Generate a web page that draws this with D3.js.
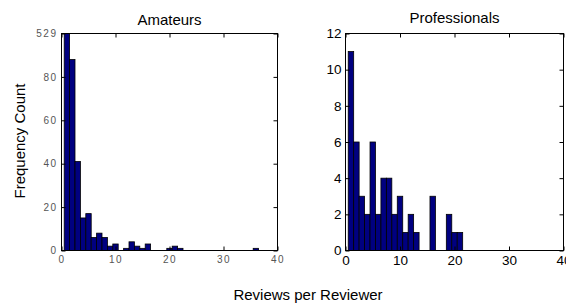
<!DOCTYPE html>
<meta charset="utf-8">
<style>
body { margin: 0; background: #fff; }
text { font-family: "Liberation Sans", Arial, sans-serif; }
.frame { fill: none; stroke: #000; stroke-width: 1px; }
.bar { fill: #000080; stroke: #000; stroke-width: 0.8px; }
.axis path { display: none; }
.axis line { stroke: #000; }
.amateur .axis text { fill: #555; font-size: 10px; letter-spacing: 1.5px; }
.pro .axis text { fill: #000; font-size: 13.5px; }
.title { font-size: 15px; text-anchor: middle; }
</style>

<svg id="chart" width="566" height="304"></svg>

<script src="https://cdn.jsdelivr.net/npm/d3@7"></script>
<script>
// counts per bin, bin 1 first
var amateurCounts = [529, 88, 41, 15, 17, 6, 8, 6, 2, 3, 0, 1, 4, 2, 1, 3, 0, 0, 0, 1, 2, 1,
                     0, 0, 0, 0, 0, 0, 0, 0, 0, 0, 0, 0, 0, 1];
var proCounts = [11, 6, 3, 2, 6, 2, 4, 4, 2, 3, 1, 2, 1, 0, 0, 3, 0, 0, 2, 1, 1];

// amateur y axis is squashed: top tick stands for the largest bin
var amateurYTicks = [0, 20, 40, 60, 80, 100];
var amateurYLabels = ["0", "20", "40", "60", "80", "529"];
var proYTicks = [0, 2, 4, 6, 8, 10, 12];
var xTicks = [0, 10, 20, 30, 40];

var svg = d3.select("#chart");

function panel(opts) {
  var g = svg.append("g")
      .attr("class", opts.cls)
      .attr("transform", "translate(" + opts.left + "," + opts.top + ")");

  var x = d3.scaleLinear().domain([0, 40]).range([0, opts.width]),
      y = d3.scaleLinear().domain(opts.yDomain).range([opts.height, 0]).clamp(true);

  var bins = opts.counts.map(function(c, i) { return {bin: i + 1, count: c}; })
      .filter(function(d) { return d.count > 0; });

  g.selectAll(".bar")
    .data(bins)
    .enter().append("rect")
      .attr("class", "bar")
      .attr("x", function(d) { return x(d.bin - 0.5); })
      .attr("width", function(d) { return x(d.bin + 0.5) - x(d.bin - 0.5); })
      .attr("y", function(d) { return y(d.count); })
      .attr("height", function(d) { return opts.height - y(d.count); });

  // matlab style: ticks point inwards on all four sides
  g.append("g")
      .attr("class", "axis")
      .attr("transform", "translate(0," + opts.height + ")")
      .call(d3.axisBottom(x).tickValues(xTicks).tickSizeInner(-4).tickSizeOuter(0).tickPadding(5));
  g.append("g")
      .attr("class", "axis")
      .call(d3.axisTop(x).tickValues(xTicks).tickSizeInner(-4).tickSizeOuter(0).tickFormat(""));
  g.append("g")
      .attr("class", "axis")
      .call(d3.axisLeft(y).tickValues(opts.yTicks).tickSizeInner(-4).tickSizeOuter(0)
        .tickPadding(4).tickFormat(opts.yFormat));
  g.append("g")
      .attr("class", "axis")
      .attr("transform", "translate(" + opts.width + ",0)")
      .call(d3.axisRight(y).tickValues(opts.yTicks).tickSizeInner(-4).tickSizeOuter(0).tickFormat(""));

  g.append("rect")
      .attr("class", "frame")
      .attr("width", opts.width)
      .attr("height", opts.height);

  g.append("text")
      .attr("class", "title")
      .attr("x", opts.width / 2)
      .attr("y", opts.titleY)
      .text(opts.title);
}

panel({
  cls: "amateur", left: 61.5, top: 33.5, width: 216, height: 217,
  counts: amateurCounts, yDomain: [0, 100], yTicks: amateurYTicks,
  yFormat: function(d, i) { return amateurYLabels[i]; },
  title: "Amateurs", titleY: -8.5
});

panel({
  cls: "pro", left: 345.5, top: 33.5, width: 218, height: 217,
  counts: proCounts, yDomain: [0, 12], yTicks: proYTicks,
  yFormat: d3.format("d"),
  title: "Professionals", titleY: -11
});

svg.append("text")
    .attr("transform", "translate(25,141) rotate(-90)")
    .attr("text-anchor", "middle")
    .style("font-size", "15px")
    .text("Frequency Count");

svg.append("text")
    .attr("x", 308)
    .attr("y", 300)
    .attr("text-anchor", "middle")
    .style("font-size", "15px")
    .text("Reviews per Reviewer");
</script>
